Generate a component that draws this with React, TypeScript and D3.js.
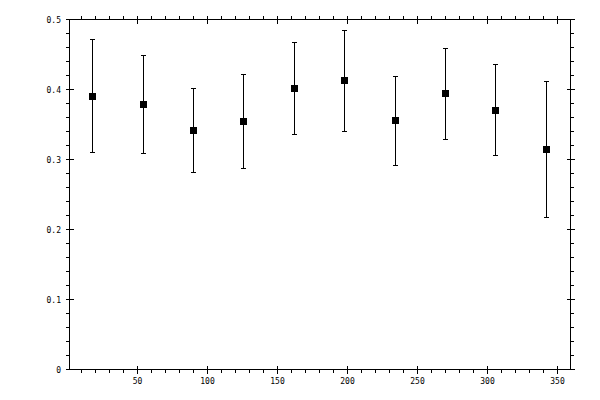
import * as d3 from "d3";

// angles / positions along x
const xs = [18, 54, 90, 126, 162, 198, 234, 270, 306, 342];
// mean values
const means = [0.39, 0.379, 0.341, 0.354, 0.401, 0.413, 0.356, 0.394, 0.37, 0.314];
// upper and lower ends of the error bars
const highs = [0.471, 0.449, 0.401, 0.421, 0.467, 0.485, 0.418, 0.458, 0.436, 0.412];
const lows = [0.31, 0.309, 0.281, 0.287, 0.336, 0.34, 0.291, 0.329, 0.306, 0.217];

const xMajor = [50, 100, 150, 200, 250, 300, 350];
const yMajor = [0, 0.1, 0.2, 0.3, 0.4, 0.5];
const yLabels = ["0", "0.1", "0.2", "0.3", "0.4", "0.5"];

export default function App() {
  const width = 600;
  const height = 400;
  const left = 69.5;
  const right = 570.5;
  const top = 19.5;
  const bottom = 369.5;

  const x = d3.scaleLinear().domain([1.4, 359.3]).range([left, right]);
  const y = d3.scaleLinear().domain([0, 0.5]).range([bottom, top]);

  const xMinor = d3.range(10, 360, 10).filter((v) => v % 50 !== 0);
  const yMinor = d3.range(0.02, 0.5, 0.02).filter((v) => Math.abs(v * 10 - Math.round(v * 10)) > 1e-6);

  const minorLen = 3.5;
  const majorLen = 4;
  const font = "DejaVu Sans Mono";
  const sq = 7;
  const cap = 2.5;

  return (
    <svg
      width={width}
      height={height}
      style={{ position: "absolute", left: 0, top: 0, background: "white" }}
      shapeRendering="crispEdges"
    >
      <rect x={0} y={0} width={width} height={height} fill="white" />
      <g stroke="black" strokeWidth={1} fill="none">
        <rect x={left} y={top} width={right - left} height={bottom - top} />
        {xMinor.map((v) => (
          <g key={"xm" + v}>
            <line x1={x(v)} x2={x(v)} y1={bottom} y2={bottom + minorLen} />
            <line x1={x(v)} x2={x(v)} y1={top} y2={top - minorLen} />
          </g>
        ))}
        {xMajor.map((v) => (
          <g key={"xM" + v}>
            <line x1={x(v)} x2={x(v)} y1={bottom - majorLen} y2={bottom + majorLen} />
            <line x1={x(v)} x2={x(v)} y1={top - majorLen} y2={top + majorLen} />
          </g>
        ))}
        {yMinor.map((v) => (
          <g key={"ym" + v}>
            <line x1={left} x2={left - minorLen} y1={y(v)} y2={y(v)} />
            <line x1={right} x2={right + minorLen} y1={y(v)} y2={y(v)} />
          </g>
        ))}
        {yMajor.map((v) => (
          <g key={"yM" + v}>
            <line x1={left - majorLen} x2={left + majorLen} y1={y(v)} y2={y(v)} />
            <line x1={right - majorLen} x2={right + majorLen} y1={y(v)} y2={y(v)} />
          </g>
        ))}
      </g>

      <g fontFamily={font} fontSize={8} fill="black">
        {xMajor.map((v) => (
          <text key={"xl" + v} x={x(v)} y={bottom + 14} textAnchor="middle">
            {v}
          </text>
        ))}
        {yMajor.map((v, i) => (
          <text key={"yl" + v} x={left - 8.5} y={y(v) + 3} textAnchor="end">
            {yLabels[i]}
          </text>
        ))}
      </g>

      <g stroke="black" strokeWidth={1}>
        {xs.map((v, i) => (
          <g key={"e" + v}>
            <line x1={x(v)} x2={x(v)} y1={y(highs[i])} y2={y(lows[i])} />
            <line x1={x(v) - cap} x2={x(v) + cap} y1={y(highs[i])} y2={y(highs[i])} />
            <line x1={x(v) - cap} x2={x(v) + cap} y1={y(lows[i])} y2={y(lows[i])} />
          </g>
        ))}
      </g>
      <g fill="black">
        {xs.map((v, i) => (
          <rect key={"p" + v} x={x(v) - sq / 2} y={y(means[i]) - sq / 2} width={sq} height={sq} />
        ))}
      </g>
    </svg>
  );
}
